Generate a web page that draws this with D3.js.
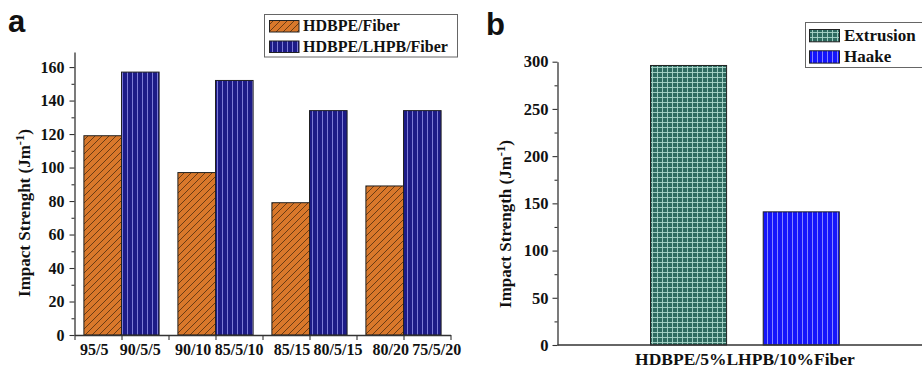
<!DOCTYPE html>
<html><head><meta charset="utf-8">
<script src="https://cdn.jsdelivr.net/npm/d3@7"></script>
<style>
html,body{margin:0;padding:0;background:#fff;}
svg text{font-family:"Liberation Serif","Times New Roman",serif;font-weight:bold;fill:#111;}
</style></head>
<body>
<svg id="c" width="922" height="369"></svg>
<script>
// ---- data ----
const ratiosA = ["95/5", "90/10", "85/15", "80/20"];
const ratiosB = ["90/5/5", "85/5/10", "80/5/15", "75/5/20"];
const seriesA = ["HDBPE/Fiber", "HDBPE/LHPB/Fiber"];
const hdbpeFiber = [119, 97, 79, 89];
const hdbpeLhpbFiber = [157, 152, 134, 134];
const yTicksA = [0, 20, 40, 60, 80, 100, 120, 140, 160];

const seriesB = ["Extrusion", "Haake"];
const valuesB = [296, 141];
const categoryB = "HDBPE/5%LHPB/10%Fiber";
const yTicksB = [0, 50, 100, 150, 200, 250, 300];

const svg = d3.select("#c");
const defs = svg.append("defs");

// patterns
function pat(id, w, h, fill, draw) {
  const p = defs.append("pattern").attr("id", id).attr("patternUnits", "userSpaceOnUse")
    .attr("width", w).attr("height", h);
  p.append("rect").attr("width", w).attr("height", h).attr("fill", fill);
  draw(p);
}
pat("hatchO", 7, 7, "#d9782b", p => {
  p.append("path").attr("d", "M0,7 L7,0 M-1,1 L1,-1 M6,8 L8,6")
    .attr("stroke", "#6a3c14").attr("stroke-width", 1);
});
pat("navy", 5, 10, "#1d1b87", p => {
  p.append("line").attr("x1", 2.5).attr("x2", 2.5).attr("y1", 0).attr("y2", 10)
    .attr("stroke", "#7d7bd6").attr("stroke-width", 1);
});
pat("teal", 5, 5, "#2e6b60", p => {
  p.append("line").attr("x1", 2.5).attr("x2", 2.5).attr("y1", 0).attr("y2", 5)
    .attr("stroke", "#a9d6c9").attr("stroke-width", 0.9);
  p.append("line").attr("x1", 0).attr("x2", 5).attr("y1", 2.5).attr("y2", 2.5)
    .attr("stroke", "#a9d6c9").attr("stroke-width", 0.9);
});
pat("haake", 5, 10, "#1515fb", p => {
  p.append("line").attr("x1", 2.5).attr("x2", 2.5).attr("y1", 0).attr("y2", 10)
    .attr("stroke", "#8585ff").attr("stroke-width", 1);
});
const fillsA = ["url(#hatchO)", "url(#navy)"];
const fillsB = ["url(#teal)", "url(#haake)"];

// ================= Panel a =================
const xA = d3.scaleLinear().domain([0.5, 4.5]).range([74.5, 450.5]);
const xLabA = d3.scaleLinear().domain([1, 4]).range([117.3, 413.8]); // label placement (as in original)
const yA = d3.scaleLinear().domain([0, 169]).range([335, 52]);
const barW = 0.4;

const gA = svg.append("g");
const dataA = [];
ratiosA.forEach((r, i) => {
  dataA.push({s: 0, g: i + 1, v: hdbpeFiber[i], label: r});
  dataA.push({s: 1, g: i + 1, v: hdbpeLhpbFiber[i], label: ratiosB[i]});
});
gA.selectAll("rect.bar").data(dataA).enter().append("rect")
  .attr("class", "bar")
  .attr("x", d => d.s === 0 ? xA(d.g - barW) : xA(d.g))
  .attr("width", d => xA(d.g + barW) - xA(d.g))
  .attr("y", d => yA(d.v))
  .attr("height", d => yA(0) - yA(d.v))
  .attr("fill", d => fillsA[d.s])
  .attr("stroke", "#222").attr("stroke-width", 1);

// y axis
const yAxA = gA.append("g").attr("transform", `translate(${xA(0.5)},0)`)
  .call(d3.axisLeft(yA).tickValues(yTicksA).tickSize(5).tickPadding(5).tickSizeOuter(0));
gA.append("g").attr("transform", `translate(${xA(0.5)},0)`)
  .call(d3.axisLeft(yA).tickValues(d3.range(10, 170, 20)).tickSize(3).tickFormat("").tickSizeOuter(0))
  .select(".domain").remove();
// x axis
gA.append("g").attr("transform", `translate(0,${yA(0)})`)
  .call(d3.axisBottom(xA).tickValues(d3.range(0.5, 4.51, 0.5)).tickSize(5).tickFormat("").tickSizeOuter(0));
gA.selectAll(".domain").attr("stroke", "#333").attr("stroke-width", 1.3);
gA.selectAll(".tick line").attr("stroke", "#333").attr("stroke-width", 1.1);
yAxA.selectAll("text").style("font-size", "16px").style("font-family", "Liberation Serif").style("font-weight", "bold").attr("fill", "#111");

// x labels
gA.selectAll("text.xl").data(dataA).enter().append("text")
  .attr("class", "xl")
  .attr("x", d => xLabA(d.g) + (d.s === 0 ? -23 : 23))
  .attr("y", 355)
  .attr("text-anchor", "middle")
  .style("font-size", "16px")
  .text(d => d.label);

// y title
const ytA = gA.append("text").attr("transform", "translate(30,213) rotate(-90)")
  .attr("text-anchor", "middle").style("font-size", "17px");
ytA.append("tspan").text("Impact Strenght (Jm");
ytA.append("tspan").attr("dy", -6).style("font-size", "12.5px").text("-1");
ytA.append("tspan").attr("dy", 6).text(")");

// panel letter
svg.append("text").attr("x", 8).attr("y", 32)
  .style("font-family", "Liberation Sans, Arial, sans-serif").style("font-size", "31px").text("a");

// legend a
const lgA = svg.append("g");
lgA.append("rect").attr("x", 264.5).attr("y", 14.5).attr("width", 193).attr("height", 42.5)
  .attr("fill", "#fff").attr("stroke", "#666").attr("stroke-width", 1);
seriesA.forEach((s, i) => {
  lgA.append("rect").attr("x", 269.5).attr("y", 20.5 + i * 20.5).attr("width", 29.5).attr("height", 11.5)
    .attr("fill", fillsA[i]).attr("stroke", "#222").attr("stroke-width", 1);
  lgA.append("text").attr("x", 303).attr("y", 31 + i * 20.5).style("font-size", "16px").text(s);
});

// ================= Panel b =================
const xB = d3.scaleBand().domain(seriesB).range([650.5, 839.3]).paddingInner(0.325);
const yB = d3.scaleLinear().domain([0, 300]).range([345, 61.7]);
const gB = svg.append("g");
gB.selectAll("rect.bar").data(seriesB).enter().append("rect")
  .attr("x", d => xB(d))
  .attr("width", xB.bandwidth())
  .attr("y", (d, i) => yB(valuesB[i]))
  .attr("height", (d, i) => yB(0) - yB(valuesB[i]))
  .attr("fill", (d, i) => fillsB[i])
  .attr("stroke", "#222").attr("stroke-width", 1);

const yAxB = gB.append("g").attr("transform", "translate(557.5,0)")
  .call(d3.axisLeft(yB).tickValues(yTicksB).tickSize(5).tickPadding(4).tickSizeOuter(0));
gB.append("g").attr("transform", "translate(557.5,0)")
  .call(d3.axisLeft(yB).tickValues(d3.range(25, 300, 50)).tickSize(3).tickFormat("").tickSizeOuter(0))
  .select(".domain").remove();
gB.append("line").attr("x1", 557.5).attr("x2", 922).attr("y1", yB(0)).attr("y2", yB(0))
  .attr("stroke", "#333").attr("stroke-width", 1.3);
gB.selectAll(".domain").attr("stroke", "#333").attr("stroke-width", 1.3);
gB.selectAll(".tick line").attr("stroke", "#333").attr("stroke-width", 1.1);
yAxB.selectAll("text").style("font-size", "16.5px").style("font-family", "Liberation Serif").style("font-weight", "bold").attr("fill", "#111");

gB.append("text").attr("x", (xB(seriesB[0]) + xB(seriesB[1]) + xB.bandwidth()) / 2).attr("y", 365)
  .attr("text-anchor", "middle").style("font-size", "17.5px").text(categoryB);

const ytB = gB.append("text").attr("transform", "translate(511,224) rotate(-90)")
  .attr("text-anchor", "middle").style("font-size", "17px");
ytB.append("tspan").text("Impact Strength (Jm");
ytB.append("tspan").attr("dy", -6).style("font-size", "12.5px").text("-1");
ytB.append("tspan").attr("dy", 6).text(")");

svg.append("text").attr("x", 486).attr("y", 35)
  .style("font-family", "Liberation Sans, Arial, sans-serif").style("font-size", "31px").text("b");

// legend b
const lgB = svg.append("g");
lgB.append("rect").attr("x", 805.5).attr("y", 22.5).attr("width", 130).attr("height", 45)
  .attr("fill", "#fff").attr("stroke", "#666").attr("stroke-width", 1);
seriesB.forEach((s, i) => {
  lgB.append("rect").attr("x", 809.5).attr("y", 29.5 + i * 21.3).attr("width", 30).attr("height", 12.3)
    .attr("fill", fillsB[i]).attr("stroke", "#222").attr("stroke-width", 1);
  lgB.append("text").attr("x", 844).attr("y", 40.5 + i * 21.3).style("font-size", "17px").text(s);
});
</script>
</body></html>
